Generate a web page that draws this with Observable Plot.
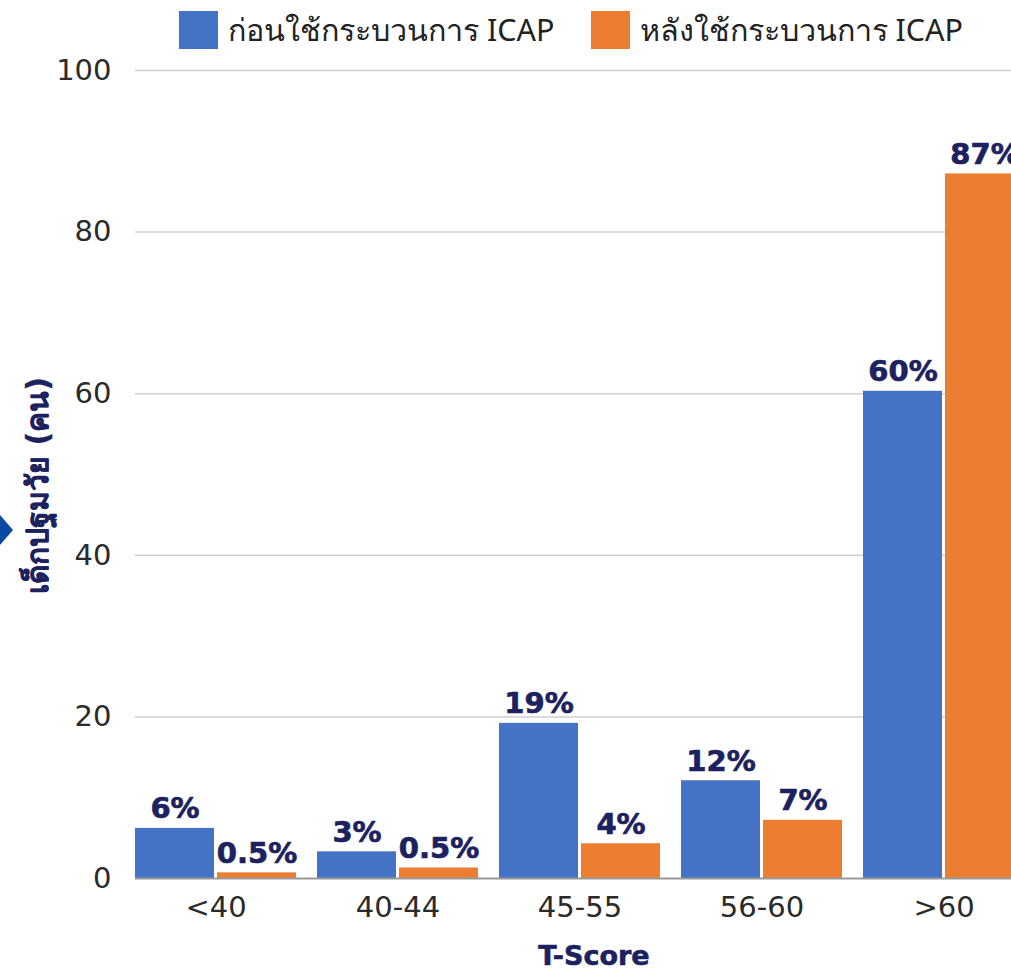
<!DOCTYPE html>
<html>
<head>
<meta charset="utf-8">
<script src="https://cdn.jsdelivr.net/npm/d3@7"></script>
<script src="https://cdn.jsdelivr.net/npm/@observablehq/plot@0.6"></script>
<style>
  html, body { margin: 0; padding: 0; background: #fff; overflow: hidden; }
  #wrap { position: relative; width: 1011px; height: 970px; }
  #legend { height: 58px; box-sizing: border-box; padding-top: 11px; padding-left: 179px; display: flex; align-items: flex-start; font-family: "Noto Sans", "DejaVu Sans", sans-serif; font-size: 30.5px; color: #222; white-space: nowrap; }
  .item { display: flex; align-items: center; margin-right: 36px; height: 38px; }
  .sw { width: 39px; height: 38px; margin-right: 10px; }
  #arrow { position: absolute; left: 0; top: 515px; width: 0; height: 0; border-top: 15px solid transparent; border-bottom: 15px solid transparent; border-left: 13px solid #0b4aa2; }
</style>
</head>
<body>
<div id="wrap">
  <div id="legend"></div>
  <div id="chart"></div>
  <div id="arrow"></div>
</div>
<script>
const categories = ["<40", "40-44", "45-55", "56-60", ">60"];
const seriesNames = ["ก่อนใช้กระบวนการ ICAP", "หลังใช้กระบวนการ ICAP"];
const beforeValues = [6.2, 3.3, 19.2, 12.1, 60.3];
const afterValues = [0.7, 1.3, 4.3, 7.2, 87.2];
const beforeLabels = ["6%", "3%", "19%", "12%", "60%"];
const afterLabels = ["0.5%", "0.5%", "4%", "7%", "87%"];
const yTicks = [0, 20, 40, 60, 80, 100];
const yTitle = "เด็กปฐมวัย (คน)";
const xTitle = "T-Score";

const colors = ["#4472c4", "#ed7d31"];
const navy = "#1c2260";

const before = categories.map((c, i) => ({cat: c, value: beforeValues[i], label: beforeLabels[i]}));
const after = categories.map((c, i) => ({cat: c, value: afterValues[i], label: afterLabels[i]}));

// legend
const legend = document.getElementById("legend");
seriesNames.forEach((name, i) => {
  const item = document.createElement("div");
  item.className = "item";
  const sw = document.createElement("div");
  sw.className = "sw";
  sw.style.background = colors[i];
  const t = document.createElement("span");
  t.textContent = name;
  item.appendChild(sw);
  item.appendChild(t);
  legend.appendChild(item);
});

const half = 82;
const off = 41;
const labelStyle = {fill: navy, stroke: navy, strokeWidth: 0.7, fontWeight: "bold", fontSize: 29, fontFamily: "DejaVu Sans", lineAnchor: "bottom", dy: -10};

const chart = Plot.plot({
  width: 1011,
  height: 912,
  marginLeft: 135,
  marginRight: -15,
  marginTop: 12,
  marginBottom: 92,
  style: {fontFamily: "DejaVu Sans, sans-serif", background: "#fff", overflow: "visible"},
  x: {type: "band", domain: categories, paddingInner: 0.115, paddingOuter: 0, align: 0, label: null},
  y: {domain: [0, 100], label: null},
  marks: [
    Plot.ruleY(yTicks.filter(d => d > 0), {stroke: "#cfcfcf", strokeWidth: 1.5}),
    Plot.barY(before, {x: "cat", y: "value", fill: colors[0], insetRight: half}),
    Plot.barY(after, {x: "cat", y: "value", fill: colors[1], insetLeft: half}),
    Plot.ruleY([0], {stroke: "#999", strokeWidth: 2}),
    Plot.text(before, {x: "cat", y: "value", text: "label", dx: -off, ...labelStyle}),
    Plot.text(after, {x: "cat", y: "value", text: "label", dx: off, ...labelStyle}),
    Plot.axisY({ticks: yTicks, tickSize: 0, tickPadding: 24, fontSize: 29, fill: "#2a2a2a", label: null}),
    Plot.axisX({tickSize: 0, tickPadding: 18, fontSize: 29, fill: "#2a2a2a", label: null}),
    Plot.text([yTitle], {frameAnchor: "left", text: d => d, rotate: -90, dx: -97, dy: 11, fill: navy, stroke: navy, strokeWidth: 0.4, fontWeight: "bold", fontSize: 30, textAnchor: "middle", lineAnchor: "middle"}),
    Plot.text([xTitle], {frameAnchor: "bottom", text: d => d, dx: 13, dy: 78, fill: navy, stroke: navy, strokeWidth: 0.6, fontWeight: "bold", fontSize: 27, textAnchor: "middle", lineAnchor: "middle", fontFamily: "DejaVu Sans"})
  ]
});
document.getElementById("chart").appendChild(chart);
</script>
</body>
</html>
